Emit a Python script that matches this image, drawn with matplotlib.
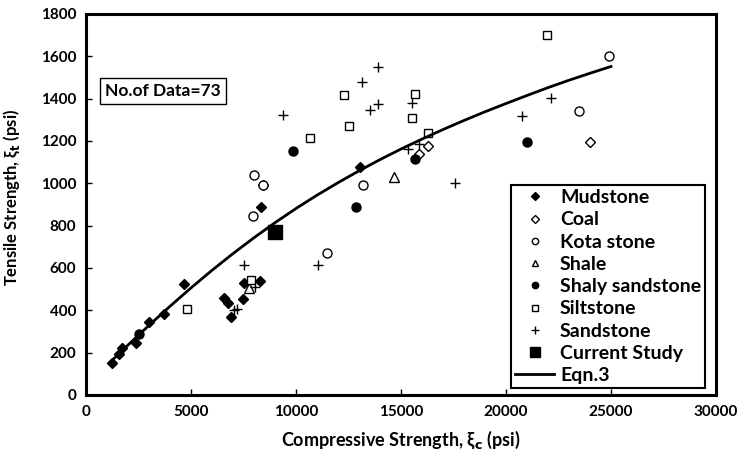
import matplotlib.pyplot as plt

plt.rcParams['font.family'] = ['Lato', 'DejaVu Sans']
plt.rcParams['font.weight'] = 'bold'

# data
mud_x = [1220, 1590, 1700, 2380, 3020, 3710, 4680, 6570, 6780, 6890, 7490, 7540, 8290, 8320, 13050]
mud_y = [150, 194, 220, 247, 346, 381, 526, 457, 436, 370, 453, 528, 539, 890, 1078]

coal_x = [8440, 15870, 16300, 24000]
coal_y = [990, 1137, 1178, 1194]

kota_x = [8000, 8440, 7940, 11460, 13180, 23490, 24920]
kota_y = [1040, 990, 846, 669, 990, 1340, 1602]

shale_x = [7760, 14680]
shale_y = [504, 1031]

shaly_x = [2540, 9870, 12860, 15670, 21020]
shaly_y = [287, 1153, 887, 1113, 1194]

silt_x = [4830, 7860, 10670, 12300, 12540, 15540, 15680, 16270, 21940]
silt_y = [408, 543, 1216, 1419, 1271, 1310, 1423, 1236, 1703]

sand_x = [13920, 13130, 13920, 13520, 9400, 15510, 15350, 15870, 17570, 7520, 11030, 7050, 7210, 8050, 20750, 22130]
sand_y = [1551, 1480, 1373, 1346, 1323, 1381, 1162, 1186, 1003, 613, 613, 402, 405, 512, 1318, 1402]

current_x = [9000]
current_y = [772]

# Eqn.3 curve
eqn_x = [1100, 2000, 3000, 4000, 5000, 6000, 7000, 8000, 9000, 10000, 11000, 12000, 13000,
         14000, 15000, 16000, 17000, 18000, 19000, 20000, 21000, 22000, 23000, 24000, 25000]
eqn_y = [150, 236, 329, 419, 506, 589, 668, 743, 814, 881, 944, 1003, 1059,
         1112, 1162, 1209, 1254, 1297, 1338, 1377, 1415, 1452, 1487, 1520, 1552]

fig = plt.figure(figsize=(7.37, 4.63), dpi=100)
ax = fig.add_axes([0.1167, 0.1469, 0.8548, 0.8229])

ax.plot(mud_x, mud_y, 'D', color='black', ms=5.5, ls='none', label='Mudstone')
ax.plot(coal_x, coal_y, 'D', mfc='white', mec='black', mew=1, ms=5.5, ls='none', label='Coal')
ax.plot(kota_x, kota_y, 'o', mfc='white', mec='black', mew=1, ms=6.5, ls='none', label='Kota stone')
ax.plot(shale_x, shale_y, '^', mfc='white', mec='black', mew=1, ms=6.5, ls='none', label='Shale')
ax.plot(shaly_x, shaly_y, 'o', color='black', ms=6.5, ls='none', label='Shaly sandstone')
ax.plot(silt_x, silt_y, 's', mfc='white', mec='black', mew=1, ms=6, ls='none', label='Siltstone')
ax.plot(sand_x, sand_y, '+', color='black', mew=1, ms=7.5, ls='none', label='Sandstone')
ax.plot(current_x, current_y, 's', color='black', ms=9.5, ls='none', label='Current Study')
ax.plot(eqn_x, eqn_y, '-', color='black', lw=2, label='Eqn.3')

ax.set_xlim(0, 30000)
ax.set_ylim(0, 1800)
ax.set_xticks(range(0, 30001, 5000))
ax.set_yticks(range(0, 1801, 200))
ax.tick_params(direction='in', length=4.5, width=1, labelsize=11, pad=7)
for s in ax.spines.values():
    s.set_linewidth(2.2)

ax.set_xlabel('Compressive Strength, ξ$_\\mathbf{c}$ (psi)', fontsize=13, fontweight='bold', labelpad=7)
fig.text(0.016, 0.574, 'Tensile Strength, ξ$_\\mathbf{t}$ (psi)', rotation=90,
         fontsize=12, fontweight='bold', ha='center', va='center')

ax.text(0.122, 0.798, 'No.of Data=73', transform=ax.transAxes, fontsize=12.5,
        fontweight='bold', ha='center', va='center',
        bbox=dict(boxstyle='square,pad=0.3', fc='white', ec='black', lw=1))

leg = ax.legend(loc='lower right', bbox_to_anchor=(0.9825, 0.018), borderaxespad=0,
                fontsize=14, markerscale=0.7, labelspacing=0.27, handlelength=2.0,
                handletextpad=0.3, borderpad=0.2, fancybox=False, framealpha=1,
                edgecolor='black')
leg.get_frame().set_linewidth(1.5)

fig.savefig('out.png', dpi=100)
